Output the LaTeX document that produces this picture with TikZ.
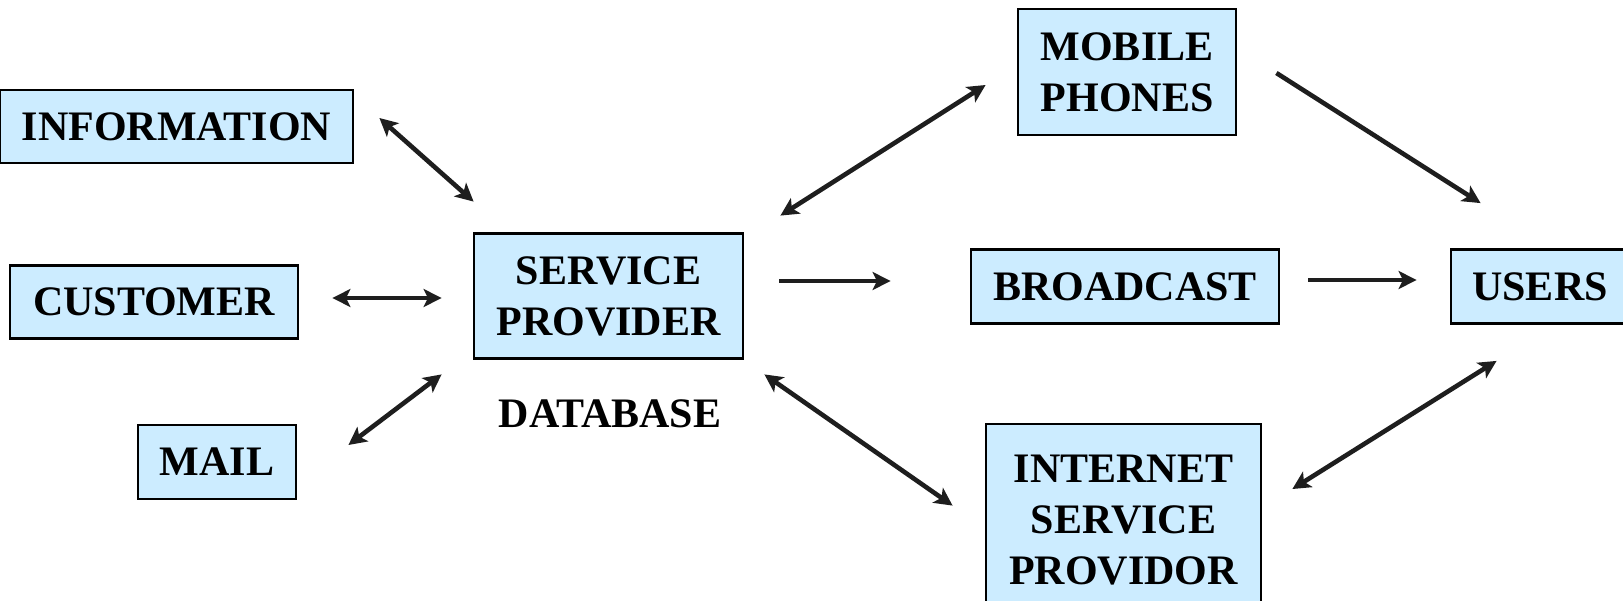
\documentclass[tikz,border=0pt]{standalone}
\usepackage{fontspec}
\setmainfont{Liberation Serif}
\usetikzlibrary{arrows.meta,calc}

\definecolor{boxfill}{HTML}{CCECFF}
\definecolor{linkcol}{HTML}{1E1E1E}

\tikzset{
  block/.style={draw=black, fill=boxfill, line width=1.4pt, inner sep=0pt,
    align=center, font=\fontsize{21}{25.5}\selectfont\bfseries},
  label/.style={inner sep=0pt, font=\fontsize{21}{25.5}\selectfont\bfseries},
  link/.style={draw=linkcol, line width=2.3pt,
    -{Stealth[length=9pt,width=9pt,inset=2.2pt]}},
  dlink/.style={link,
    {Stealth[length=9pt,width=9pt,inset=2.2pt]}-{Stealth[length=9pt,width=9pt,inset=2.2pt]}}
}

\begin{document}
\begin{tikzpicture}[x=0.5pt,y=-0.5pt]
\useasboundingbox (0,0) rectangle (1623,600);

% left-hand sources
\node[block, minimum width=176.5pt, minimum height=36.5pt] (info) at (176.5,126.5) {INFORMATION};
\node[block, minimum width=144pt, minimum height=36.5pt] (cust) at (154,302) {CUSTOMER};
\node[block, minimum width=79pt, minimum height=37pt] (mail) at (217,462) {MAIL};

% central provider
\node[block, minimum width=134.5pt, minimum height=62.5pt] (sp) at (608.5,296) {SERVICE\\PROVIDER};
\node[label] (db) at (610,414) {DATABASE};

% delivery channels
\node[block, minimum width=109pt, minimum height=63pt] (mob) at (1127,72) {MOBILE\\PHONES};
\node[block, minimum width=154pt, minimum height=37pt] (bc) at (1125,286.5) {BROADCAST};
\node[block, minimum width=137.5pt, minimum height=96pt] (isp) at (1123.5,520) {INTERNET\\SERVICE\\PROVIDOR};

% consumers
\node[block, minimum width=89pt, minimum height=37pt] (users) at (1540,286.5) {USERS};

% links into the provider
\draw[dlink] ([shift={(25,-8.5)}]info.east) -- ([shift={(1,-30.5)}]sp.north west);
\draw[dlink] ([shift={(33,-4)}]cust.east) -- ([shift={(-31,2)}]sp.west);
\draw[dlink] ([shift={(51,-17)}]mail.east) -- ([shift={(-31,14.5)}]sp.south west);

% links out to the channels
\draw[dlink] ([shift={(36,-16.5)}]sp.north east) -- ([shift={(-31,13)}]mob.west);
\draw[link] ([shift={(35,-15)}]sp.east) -- ([shift={(-79,-5.5)}]bc.west);
\draw[dlink] ([shift={(20,14.5)}]sp.south east) -- ([shift={(-32,83)}]isp.north west);

% channels to users
\draw[link] ([shift={(39,1)}]mob.east) -- ([shift={(31,-45)}]users.north west);
\draw[link] ([shift={(28,-6.5)}]bc.east) -- ([shift={(-33,-6.5)}]users.west);
\draw[dlink] ([shift={(30,-31)}]isp.east) -- ([shift={(47,36)}]users.south west);
\end{tikzpicture}
\end{document}
